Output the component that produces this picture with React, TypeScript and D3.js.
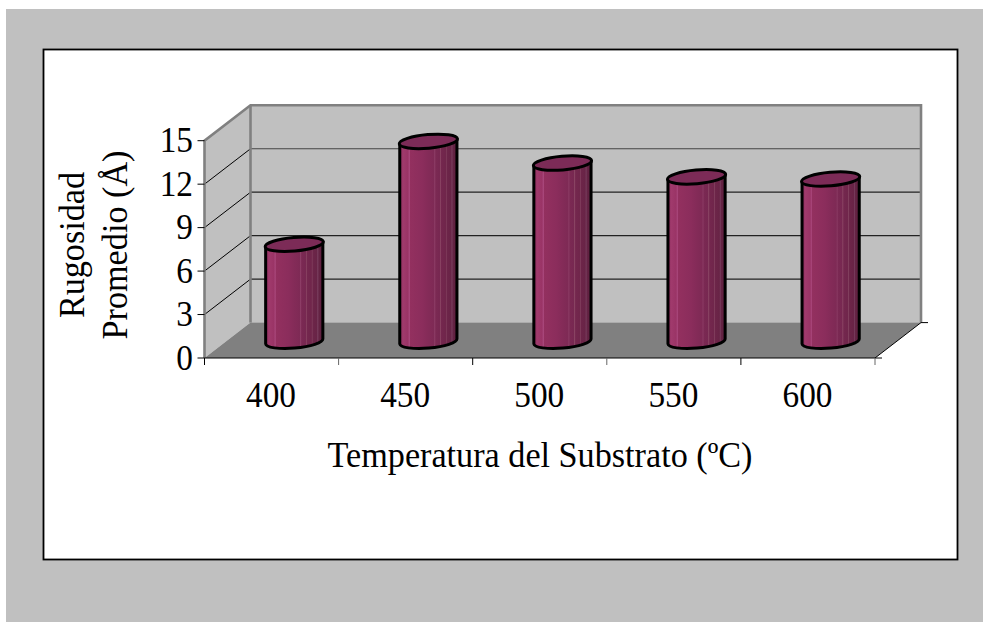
import React from "react";
import * as d3 from "d3";

const temperatures = ["400", "450", "500", "550", "600"];
const roughness = [6.7, 13.8, 12.3, 11.35, 11.2];
const yTicks = [0, 3, 6, 9, 12, 15];
const xAxisTitle = "Temperatura del Substrato (ºC)";
const yAxisTitleLines = ["Rugosidad", "Promedio (Å)"];

// Cylinder shading: bright left edge, darker right side, with thin facet bands.
const shadeStops: [number, string][] = [
  [0, "#8c2d5e"], [0.06, "#a03a6c"], [0.14, "#9a3466"], [0.17, "#a8467a"], [0.18, "#93305f"],
  [0.4, "#8b2d5c"], [0.5, "#842b58"], [0.6, "#7e2a55"], [0.61, "#8e3e67"], [0.63, "#7b2953"],
  [0.7, "#772851"], [0.71, "#8a4463"], [0.73, "#74274e"], [0.8, "#70264b"], [0.81, "#83415f"],
  [0.83, "#6d2549"], [0.9, "#682446"], [0.91, "#7d4464"], [0.93, "#652344"], [1, "#5c203e"],
];

const FRONT_LEFT = 204.5;
const FRONT_RIGHT = 875;
const FRONT_BOTTOM = 358;
const FRONT_TOP = 140.7;
const DEPTH_X = 46;
const DEPTH_Y = -35.4;
const TEXT_STRETCH = 1.05;

export default function App() {
  const x = d3.scaleBand<string>().domain(temperatures).range([FRONT_LEFT, FRONT_RIGHT]);
  const y = d3.scaleLinear().domain([0, 15]).range([FRONT_BOTTOM, FRONT_TOP]);
  const band = x.bandwidth();
  const rx = 28.6;
  const ry = 6.8;
  const tilt = -5;
  const tiltDy = 2.5;

  const wallLeft = FRONT_LEFT + DEPTH_X;
  const wallRight = FRONT_RIGHT + DEPTH_X;
  const serif = "'Liberation Serif', 'Times New Roman', serif";

  const tickXs = [...temperatures.map((t) => x(t)!), FRONT_RIGHT];
  const stretched = (px: number, py: number) => `translate(${px},${py}) scale(1,${TEXT_STRETCH})`;

  return (
    <svg
      width={983}
      height={622}
      style={{ position: "absolute", left: 0, top: 0, display: "block" }}
      fontFamily={serif}
      fill="#000"
    >
      <defs>
        <linearGradient id="cylinderShade" x1="0" x2="1" y1="0" y2="0">
          {shadeStops.map(([o, c], i) => (
            <stop key={i} offset={o} stopColor={c} />
          ))}
        </linearGradient>
      </defs>

      <rect x={6} y={9} width={977} height={613} fill="#c0c0c0" />
      <rect x={43.5} y={49.5} width={914} height={510} fill="#fff" stroke="#000" strokeWidth={1.8} />

      {/* Side wall, back wall, floor */}
      <polygon
        points={`${FRONT_LEFT},${FRONT_BOTTOM} ${FRONT_LEFT},${FRONT_TOP} ${wallLeft},${FRONT_TOP + DEPTH_Y} ${wallLeft},${FRONT_BOTTOM + DEPTH_Y}`}
        fill="#c0c0c0"
      />
      <rect
        x={wallLeft}
        y={FRONT_TOP + DEPTH_Y}
        width={FRONT_RIGHT - FRONT_LEFT}
        height={FRONT_BOTTOM - FRONT_TOP}
        fill="#c0c0c0"
      />
      <polygon
        points={`${FRONT_LEFT},${FRONT_BOTTOM} ${FRONT_RIGHT},${FRONT_BOTTOM} ${wallRight},${FRONT_BOTTOM + DEPTH_Y} ${wallLeft},${FRONT_BOTTOM + DEPTH_Y}`}
        fill="#808080"
      />

      {/* Gridlines on both walls */}
      {yTicks.slice(1, -1).map((t) => (
        <g key={t} fill="none">
          <line x1={FRONT_LEFT} y1={y(t)} x2={wallLeft} y2={y(t) + DEPTH_Y} stroke="#000" strokeWidth={1} />
          <line
            x1={wallLeft}
            y1={y(t) + DEPTH_Y}
            x2={wallRight}
            y2={y(t) + DEPTH_Y}
            stroke={t === 12 ? "#444" : "#222"}
            strokeWidth={1.2}
          />
        </g>
      ))}

      {/* Wall outlines */}
      <g fill="none" stroke="#808080" strokeWidth={2.6}>
        <polyline
          points={`${FRONT_LEFT},${FRONT_BOTTOM} ${FRONT_LEFT},${FRONT_TOP} ${wallLeft},${FRONT_TOP + DEPTH_Y} ${wallRight},${FRONT_TOP + DEPTH_Y} ${wallRight},${FRONT_BOTTOM + DEPTH_Y}`}
        />
        <line x1={wallLeft} y1={FRONT_TOP + DEPTH_Y} x2={wallLeft} y2={FRONT_BOTTOM + DEPTH_Y} />
      </g>

      {/* Front axes */}
      <g fill="none" stroke="#000" strokeWidth={1}>
        <line x1={FRONT_LEFT} y1={FRONT_BOTTOM} x2={FRONT_RIGHT} y2={FRONT_BOTTOM} />
        <line x1={FRONT_RIGHT} y1={FRONT_BOTTOM} x2={wallRight} y2={FRONT_BOTTOM + DEPTH_Y} />
        <line x1={wallRight} y1={FRONT_BOTTOM + DEPTH_Y} x2={wallRight + 7} y2={FRONT_BOTTOM + DEPTH_Y} />
        <line x1={FRONT_RIGHT} y1={FRONT_BOTTOM} x2={FRONT_RIGHT + 7} y2={FRONT_BOTTOM} />
        {tickXs.map((tx, i) => (
          <line key={i} x1={tx} y1={FRONT_BOTTOM} x2={tx} y2={FRONT_BOTTOM + 7} stroke={i % 2 ? "#666" : "#000"} />
        ))}
        {yTicks.map((t) => (
          <line key={t} x1={FRONT_LEFT - 7} y1={y(t)} x2={FRONT_LEFT} y2={y(t)} />
        ))}
      </g>

      {/* Cylinders */}
      {temperatures.map((t, i) => {
        const cx = x(t)! + band / 2 + DEPTH_X / 2 - 0.3;
        const base = FRONT_BOTTOM + DEPTH_Y / 2;
        const top = base - (FRONT_BOTTOM - y(roughness[i]));
        const yBase = base + 1;
        const yTop = top + 1;
        const body =
          `M${cx - rx},${yTop + tiltDy} L${cx + rx},${yTop - tiltDy} L${cx + rx},${yBase - tiltDy} ` +
          `A${rx},${ry} ${tilt} 0 1 ${cx - rx},${yBase + tiltDy} Z`;
        return (
          <g key={t}>
            <path d={body} fill="url(#cylinderShade)" stroke="#000" strokeWidth={3} strokeLinejoin="round" />
            <ellipse
              cx={0}
              cy={0}
              rx={rx + 0.6}
              ry={ry}
              transform={`translate(${cx},${yTop}) rotate(${tilt})`}
              fill="#7c2b57"
              stroke="#000"
              strokeWidth={3}
            />
          </g>
        );
      })}

      {/* Tick labels and titles */}
      <g fontSize={33.3}>
        {yTicks.map((t) => (
          <text key={t} transform={stretched(FRONT_LEFT - 11.5, y(t) + 11.6)} textAnchor="end">
            {t}
          </text>
        ))}
        {temperatures.map((t) => (
          <text key={t} transform={stretched(x(t)! + band / 2 - 0.5, 406.5)} textAnchor="middle">
            {t}
          </text>
        ))}
      </g>
      <g fontSize={34.2}>
        <text transform={stretched(540, 466.7)} textAnchor="middle">
          {xAxisTitle}
        </text>
        {yAxisTitleLines.map((line, i) => (
          <text
            key={line}
            transform={`translate(${84.3 + i * 42.7},245) rotate(-90) scale(1,${TEXT_STRETCH})`}
            textAnchor="middle"
          >
            {line}
          </text>
        ))}
      </g>
    </svg>
  );
}
